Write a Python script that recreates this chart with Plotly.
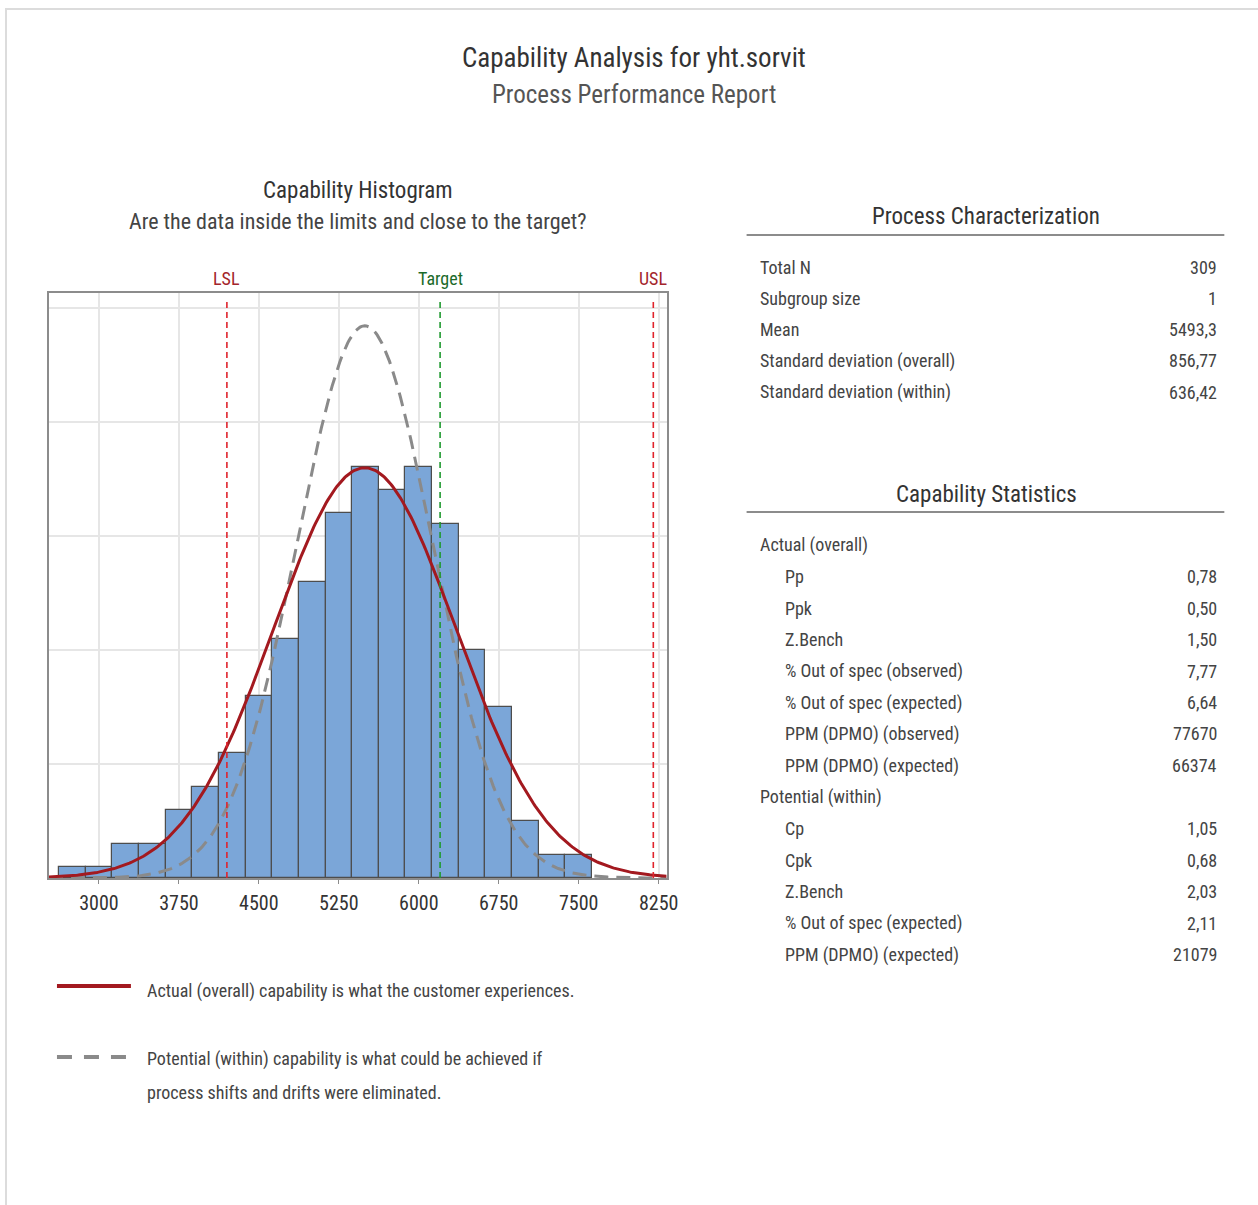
import numpy as np
import plotly.graph_objects as go

# ---- data -------------------------------------------------------------
bin_centers = [2750, 3000, 3250, 3500, 3750, 4000, 4250, 4500, 4750, 5000,
               5250, 5500, 5750, 6000, 6250, 6500, 6750, 7000, 7250, 7500]
bin_counts = [1, 1, 3, 3, 6, 8, 11, 16, 21, 26,
              32, 36, 34, 36, 31, 20, 15, 5, 2, 2]
bin_width = 250

LSL, TARGET, USL = 4200, 6200, 8200

total_n = 309
mean = 5493.3
sd_overall = 856.77
sd_within = 636.42

tick_vals = [3000, 3750, 4500, 5250, 6000, 6750, 7500, 8250]

char_labels = ["Total N", "Subgroup size", "Mean",
               "Standard deviation (overall)", "Standard deviation (within)"]
char_values = ["309", "1", "5493,3", "856,77", "636,42"]

stat_labels = ["Actual (overall)", "Pp", "Ppk", "Z.Bench",
               "% Out of spec (observed)", "% Out of spec (expected)",
               "PPM (DPMO) (observed)", "PPM (DPMO) (expected)",
               "Potential (within)", "Cp", "Cpk", "Z.Bench",
               "% Out of spec (expected)", "PPM (DPMO) (expected)"]
stat_values = ["", "0,78", "0,50", "1,50", "7,77", "6,64", "77670", "66374",
               "", "1,05", "0,68", "2,03", "2,11", "21079"]
stat_is_header = [True, False, False, False, False, False, False, False,
                  True, False, False, False, False, False]

# ---- page geometry ----------------------------------------------------
W, H = 1258, 1205
XW = W * 0.991          # horizontal layout unit
FONT = "Liberation Sans Narrow, Arial Narrow, Roboto Condensed, sans-serif"
TXT = "#444444"


def px(x):
    return x / XW


def py(y):
    return 1 - y / H


X_RANGE = [2531, 8325]
Y_TOP = 51.3

# ---- fitted normal curves (scaled to counts) ---------------------------
xs = np.linspace(X_RANGE[0], X_RANGE[1], 400)


def normal_counts(sd):
    return total_n * bin_width * np.exp(-0.5 * ((xs - mean) / sd) ** 2) / (sd * np.sqrt(2 * np.pi))


fig = go.Figure()

fig.add_trace(go.Bar(
    x=bin_centers, y=bin_counts, width=bin_width,
    marker=dict(color="#7ba6d8", line=dict(color="#4d4d4d", width=1.2)),
    hoverinfo="x+y", showlegend=False,
))

fig.add_trace(go.Scatter(
    x=xs, y=normal_counts(sd_within), mode="lines",
    line=dict(color="#8a8a8a", width=3, dash="14px,8px"),
    showlegend=False, hoverinfo="skip",
))
fig.add_trace(go.Scatter(
    x=xs, y=normal_counts(sd_overall), mode="lines",
    line=dict(color="#a3191f", width=3),
    showlegend=False, hoverinfo="skip",
))

# spec limits and target
for val, col in [(LSL, "#e0242c"), (USL, "#e0242c"), (TARGET, "#1f9a2f")]:
    fig.add_shape(type="line", xref="x", yref="y", x0=val, x1=val,
                  y0=0, y1=50.7, line=dict(color=col, width=1.6, dash="6px,4px"))

for val, label, col in [(LSL, "LSL", "#a3252b"), (TARGET, "Target", "#1b6a2a"),
                        (USL, "USL", "#a3252b")]:
    fig.add_annotation(x=val, y=py(278), xref="x", yref="paper", text=label,
                       showarrow=False, xanchor="center", yanchor="middle",
                       font=dict(family=FONT, size=18, color=col))

fig.update_xaxes(
    domain=[px(49), px(667)], range=X_RANGE,
    tickvals=tick_vals, ticktext=[str(v) for v in tick_vals],
    showgrid=True, gridcolor="#e6e6e6", gridwidth=1.5,
    showline=True, linecolor="#8c8c8c", linewidth=1.5, mirror=True,
    ticks="outside", ticklen=4, tickcolor="#8c8c8c",
    ticklabelstandoff=2,
    tickfont=dict(family=FONT, size=20, color="#333333"),
    zeroline=False,
)
fig.update_yaxes(
    domain=[py(878), py(293)], range=[0, Y_TOP],
    tickvals=[10, 20, 30, 40, 50], showticklabels=False,
    showgrid=True, gridcolor="#e6e6e6", gridwidth=1.5,
    showline=True, linecolor="#8c8c8c", linewidth=1.5, mirror=True,
    zeroline=False,
)

# ---- titles ------------------------------------------------------------
def text(x, y, s, size, color=TXT, anchor="center"):
    fig.add_annotation(x=px(x), y=py(y), xref="paper", yref="paper", text=s,
                       showarrow=False, xanchor=anchor, yanchor="middle",
                       font=dict(family=FONT, size=size, color=color))


text(634, 58, "Capability Analysis for yht.sorvit", 27, "#333333")
text(634, 95, "Process Performance Report", 25, "#555555")
text(358, 190, "Capability Histogram", 23, "#333333")
text(358, 221, "Are the data inside the limits and close to the target?", 22, "#444444")

# ---- right-hand tables -------------------------------------------------
text(987, 216, "Process Characterization", 23, "#333333")
fig.add_shape(type="line", xref="paper", yref="paper", x0=px(747), x1=px(1225),
              y0=py(235), y1=py(235), line=dict(color="#8c8c8c", width=2))
for i, (lab, val) in enumerate(zip(char_labels, char_values)):
    y = 267 + i * 31.3
    text(758, y, lab, 18, anchor="left")
    text(1220, y, val, 18, anchor="right")

text(987, 494, "Capability Statistics", 23, "#333333")
fig.add_shape(type="line", xref="paper", yref="paper", x0=px(747), x1=px(1225),
              y0=py(512), y1=py(512), line=dict(color="#8c8c8c", width=2))
for i, (lab, val, hdr) in enumerate(zip(stat_labels, stat_values, stat_is_header)):
    y = 545 + i * 31.5
    text(758 if hdr else 783, y, lab, 18, anchor="left")
    if val:
        text(1220, y, val, 18, anchor="right")

# ---- legend notes ------------------------------------------------------
fig.add_shape(type="line", xref="paper", yref="paper", x0=px(57), x1=px(131),
              y0=py(986), y1=py(986), line=dict(color="#a3191f", width=4))
text(145, 991, "Actual (overall) capability is what the customer experiences.", 18, anchor="left")
fig.add_shape(type="line", xref="paper", yref="paper", x0=px(57), x1=px(127),
              y0=py(1057), y1=py(1057), line=dict(color="#8a8a8a", width=4, dash="15px,12px"))
text(145, 1059, "Potential (within) capability is what could be achieved if", 18, anchor="left")
text(145, 1092, "process shifts and drifts were eliminated.", 18, anchor="left")

# page frame
fig.add_shape(type="rect", xref="paper", yref="paper", x0=px(6), x1=px(1280),
              y0=py(1220), y1=py(9), line=dict(color="#dcdcdc", width=2),
              fillcolor="rgba(0,0,0,0)", layer="below")

fig.update_layout(
    width=W, height=H, margin=dict(l=0, r=0, t=0, b=0),
    paper_bgcolor="white", plot_bgcolor="white",
    bargap=0, showlegend=False,
)

fig.write_html("out.html")
